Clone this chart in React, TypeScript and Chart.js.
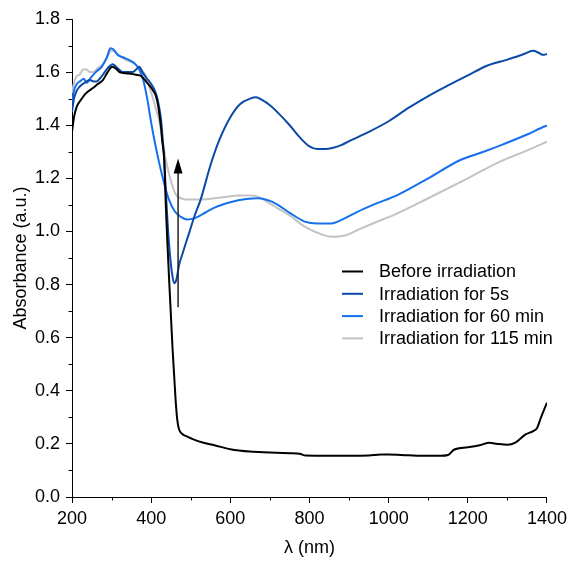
import React, { useEffect, useRef } from "react";
import { Chart, registerables } from "chart.js";

Chart.register(...registerables);

// ---------- data ----------
const beforeWl = [200, 205, 212, 220, 235, 253, 265, 278, 290, 302, 312, 320, 340, 362, 375, 387, 398, 405, 412, 418, 425, 428, 433, 437, 440, 445, 450, 454, 458, 462, 466, 470, 478, 490, 505, 530, 560, 600, 650, 700, 750, 775, 790, 850, 900, 950, 980, 1000, 1050, 1100, 1130, 1150, 1165, 1200, 1230, 1255, 1275, 1300, 1320, 1345, 1365, 1375, 1385, 1393, 1400];
const beforeAbs = [1.375, 1.43, 1.47, 1.49, 1.52, 1.54, 1.555, 1.57, 1.6, 1.62, 1.612, 1.6, 1.595, 1.59, 1.585, 1.565, 1.545, 1.53, 1.51, 1.47, 1.39, 1.34, 1.27, 1.1, 0.99, 0.83, 0.68, 0.56, 0.46, 0.36, 0.29, 0.257, 0.238, 0.228, 0.218, 0.205, 0.195, 0.18, 0.171, 0.168, 0.165, 0.163, 0.156, 0.155, 0.155, 0.156, 0.16, 0.16, 0.157, 0.155, 0.155, 0.158, 0.178, 0.187, 0.195, 0.204, 0.2, 0.197, 0.205, 0.235, 0.248, 0.26, 0.3, 0.33, 0.355];

const fiveSecWl = [200, 205, 212, 219, 232, 245, 255, 262, 270, 278, 290, 303, 315, 328, 340, 353, 362, 370, 378, 387, 398, 412, 420, 425, 430, 433, 437, 442, 447, 452, 458, 464, 470, 480, 495, 510, 525, 550, 571, 600, 625, 650, 665, 680, 700, 725, 750, 775, 800, 820, 840, 860, 880, 900, 950, 1000, 1050, 1100, 1150, 1200, 1250, 1300, 1340, 1365, 1380, 1390, 1400];
const fiveSecAbs = [1.45, 1.5, 1.53, 1.545, 1.56, 1.57, 1.565, 1.565, 1.575, 1.59, 1.615, 1.63, 1.615, 1.6, 1.6, 1.6, 1.61, 1.62, 1.6, 1.58, 1.56, 1.52, 1.47, 1.42, 1.33, 1.27, 1.15, 1.02, 0.92, 0.85, 0.805, 0.82, 0.87, 0.92, 0.99, 1.06, 1.12, 1.25, 1.34, 1.43, 1.48, 1.5, 1.505, 1.495, 1.475, 1.44, 1.4, 1.355, 1.32, 1.31, 1.31, 1.315, 1.325, 1.34, 1.375, 1.415, 1.465, 1.51, 1.55, 1.588, 1.625, 1.647, 1.667, 1.68, 1.672, 1.665, 1.668];

const sixtyMinWl = [200, 205, 212, 220, 230, 237, 248, 260, 275, 288, 297, 305, 315, 330, 345, 360, 370, 380, 390, 400, 410, 420, 433, 445, 460, 475, 491, 510, 530, 560, 600, 640, 671, 700, 720, 750, 788, 820, 855, 890, 921, 960, 1022, 1100, 1180, 1240, 1289, 1350, 1397, 1400];
const sixtyMinAbs = [1.48, 1.53, 1.555, 1.565, 1.575, 1.56, 1.58, 1.6, 1.62, 1.655, 1.69, 1.685, 1.665, 1.655, 1.645, 1.63, 1.61, 1.57, 1.5, 1.41, 1.33, 1.26, 1.18, 1.12, 1.075, 1.055, 1.045, 1.05, 1.065, 1.09, 1.11, 1.122, 1.125, 1.115, 1.1, 1.07, 1.037, 1.03, 1.03, 1.05, 1.074, 1.1, 1.137, 1.2, 1.268, 1.3, 1.328, 1.365, 1.397, 1.398];

const oneFifteenWl = [200, 205, 212, 219, 228, 237, 245, 253, 265, 278, 290, 299, 310, 325, 337, 355, 370, 385, 395, 405, 412, 420, 428, 437, 450, 462, 475, 490, 503, 530, 560, 587, 620, 650, 671, 700, 720, 750, 788, 820, 855, 890, 921, 960, 1022, 1100, 1200, 1280, 1350, 1400];
const oneFifteenAbs = [1.52, 1.56, 1.585, 1.59, 1.61, 1.61, 1.6, 1.6, 1.615, 1.63, 1.66, 1.68, 1.675, 1.655, 1.645, 1.635, 1.615, 1.59, 1.545, 1.5, 1.46, 1.42, 1.35, 1.27, 1.19, 1.14, 1.125, 1.12, 1.12, 1.12, 1.125, 1.13, 1.135, 1.135, 1.13, 1.105, 1.087, 1.06, 1.018, 0.995, 0.98, 0.985, 1.005, 1.03, 1.068, 1.125, 1.2, 1.262, 1.305, 1.338];

const seriesLabels = ["Before irradiation", "Irradiation for 5s", "Irradiation for 60 min", "Irradiation for 115 min"];
const seriesColors = ["#000000", "#0b4aa6", "#1670ee", "#c3c3c3"];

const arrowX = 468;
const arrowFrom = 0.715;
const arrowTo = 1.275;

const yTitle = "Absorbance (a.u.)";
const xTitle = "λ (nm)";

const FONT = "'Liberation Sans', Arial, Helvetica, sans-serif";

function pts(xs: number[], ys: number[]) {
  return xs.map((x, i) => ({ x, y: ys[i] }));
}

export default function App() {
  const ref = useRef<HTMLCanvasElement>(null);

  useEffect(() => {
    document.body.style.margin = "0";
    const canvas = ref.current!;

    const minorTicks = {
      id: "minorTicks",
      afterDraw(chart: any) {
        const { ctx, chartArea, scales } = chart;
        ctx.save();
        ctx.strokeStyle = "#000";
        ctx.lineWidth = 1;
        ctx.beginPath();
        for (let v = 1; v < 18; v += 2) {
          const y = Math.round(scales.y.getPixelForValue(v / 10)) + 0.5;
          ctx.moveTo(chartArea.left - 3.5, y);
          ctx.lineTo(chartArea.left, y);
        }
        for (let v = 300; v < 1400; v += 200) {
          const x = Math.round(scales.x.getPixelForValue(v)) + 0.5;
          ctx.moveTo(x, chartArea.bottom);
          ctx.lineTo(x, chartArea.bottom + 3.5);
        }
        ctx.stroke();
        ctx.restore();
      },
    };

    const arrowPlugin = {
      id: "arrow",
      afterDatasetsDraw(chart: any) {
        const { ctx, scales } = chart;
        const x = scales.x.getPixelForValue(arrowX);
        const y0 = scales.y.getPixelForValue(arrowFrom);
        const y1 = scales.y.getPixelForValue(arrowTo);
        ctx.save();
        ctx.strokeStyle = "#222";
        ctx.fillStyle = "#000";
        ctx.lineWidth = 1.5;
        ctx.beginPath();
        ctx.moveTo(x, y0);
        ctx.lineTo(x, y1 + 10);
        ctx.stroke();
        ctx.beginPath();
        ctx.moveTo(x, y1);
        ctx.lineTo(x - 4.5, y1 + 15);
        ctx.lineTo(x + 4.5, y1 + 15);
        ctx.closePath();
        ctx.fill();
        ctx.restore();
      },
    };

    const legendPlugin = {
      id: "innerLegend",
      afterDraw(chart: any) {
        const { ctx } = chart;
        ctx.save();
        ctx.font = `18px ${FONT}`;
        ctx.textBaseline = "middle";
        ctx.textAlign = "left";
        seriesLabels.forEach((label, i) => {
          const y = 271.5 + i * 22.3;
          ctx.strokeStyle = seriesColors[i];
          ctx.lineWidth = 2;
          ctx.beginPath();
          ctx.moveTo(342, y);
          ctx.lineTo(363, y);
          ctx.stroke();
          ctx.fillStyle = "#000";
          ctx.fillText(label, 379, y + 1);
        });
        ctx.restore();
      },
    };

    const datasets = [
      pts(beforeWl, beforeAbs),
      pts(fiveSecWl, fiveSecAbs),
      pts(sixtyMinWl, sixtyMinAbs),
      pts(oneFifteenWl, oneFifteenAbs),
    ].map((data, i) => ({
      label: seriesLabels[i],
      data,
      borderColor: seriesColors[i],
      backgroundColor: seriesColors[i],
      borderWidth: 2,
      pointRadius: 0,
      cubicInterpolationMode: "monotone" as const,
      fill: false,
      order: i,
    }));

    const chart = new Chart(canvas, {
      type: "line",
      data: { datasets },
      options: {
        animation: false,
        responsive: false,
        devicePixelRatio: 1,
        layout: { padding: { top: 19, right: 21, left: 0, bottom: 0 } },
        plugins: {
          legend: { display: false },
          tooltip: { enabled: false },
        },
        scales: {
          x: {
            type: "linear",
            min: 200,
            max: 1400,
            ticks: {
              stepSize: 200,
              color: "#000",
              font: { family: FONT, size: 18 },
              padding: 5,
              maxRotation: 0,
              autoSkip: false,
              callback: (v: any) => String(Math.round(Number(v))),
            },
            grid: { drawOnChartArea: false, tickLength: 6, tickColor: "#000", tickWidth: 1 },
            border: { color: "#000", width: 1 },
            title: {
              display: true,
              text: xTitle,
              color: "#000",
              font: { family: FONT, size: 18 },
              padding: { top: 0, bottom: 3 },
            },
            afterFit: (s: any) => {
              s.height = 65;
            },
          },
          y: {
            type: "linear",
            min: 0,
            max: 1.8,
            ticks: {
              stepSize: 0.2,
              color: "#000",
              font: { family: FONT, size: 18 },
              padding: 6,
              callback: (v: any) => Number(v).toFixed(1),
            },
            grid: { drawOnChartArea: false, tickLength: 6, tickColor: "#000", tickWidth: 1 },
            border: { color: "#000", width: 1 },
            title: {
              display: true,
              text: yTitle,
              color: "#000",
              font: { family: FONT, size: 18 },
              padding: { top: 10, bottom: 0 },
            },
            afterFit: (s: any) => {
              s.width = 72;
            },
          },
        },
      },
      plugins: [minorTicks, arrowPlugin, legendPlugin],
    });

    return () => chart.destroy();
  }, []);

  return (
    <div style={{ width: 572, height: 562 }}>
      <canvas ref={ref} width={572} height={562} style={{ display: "block" }} />
    </div>
  );
}
